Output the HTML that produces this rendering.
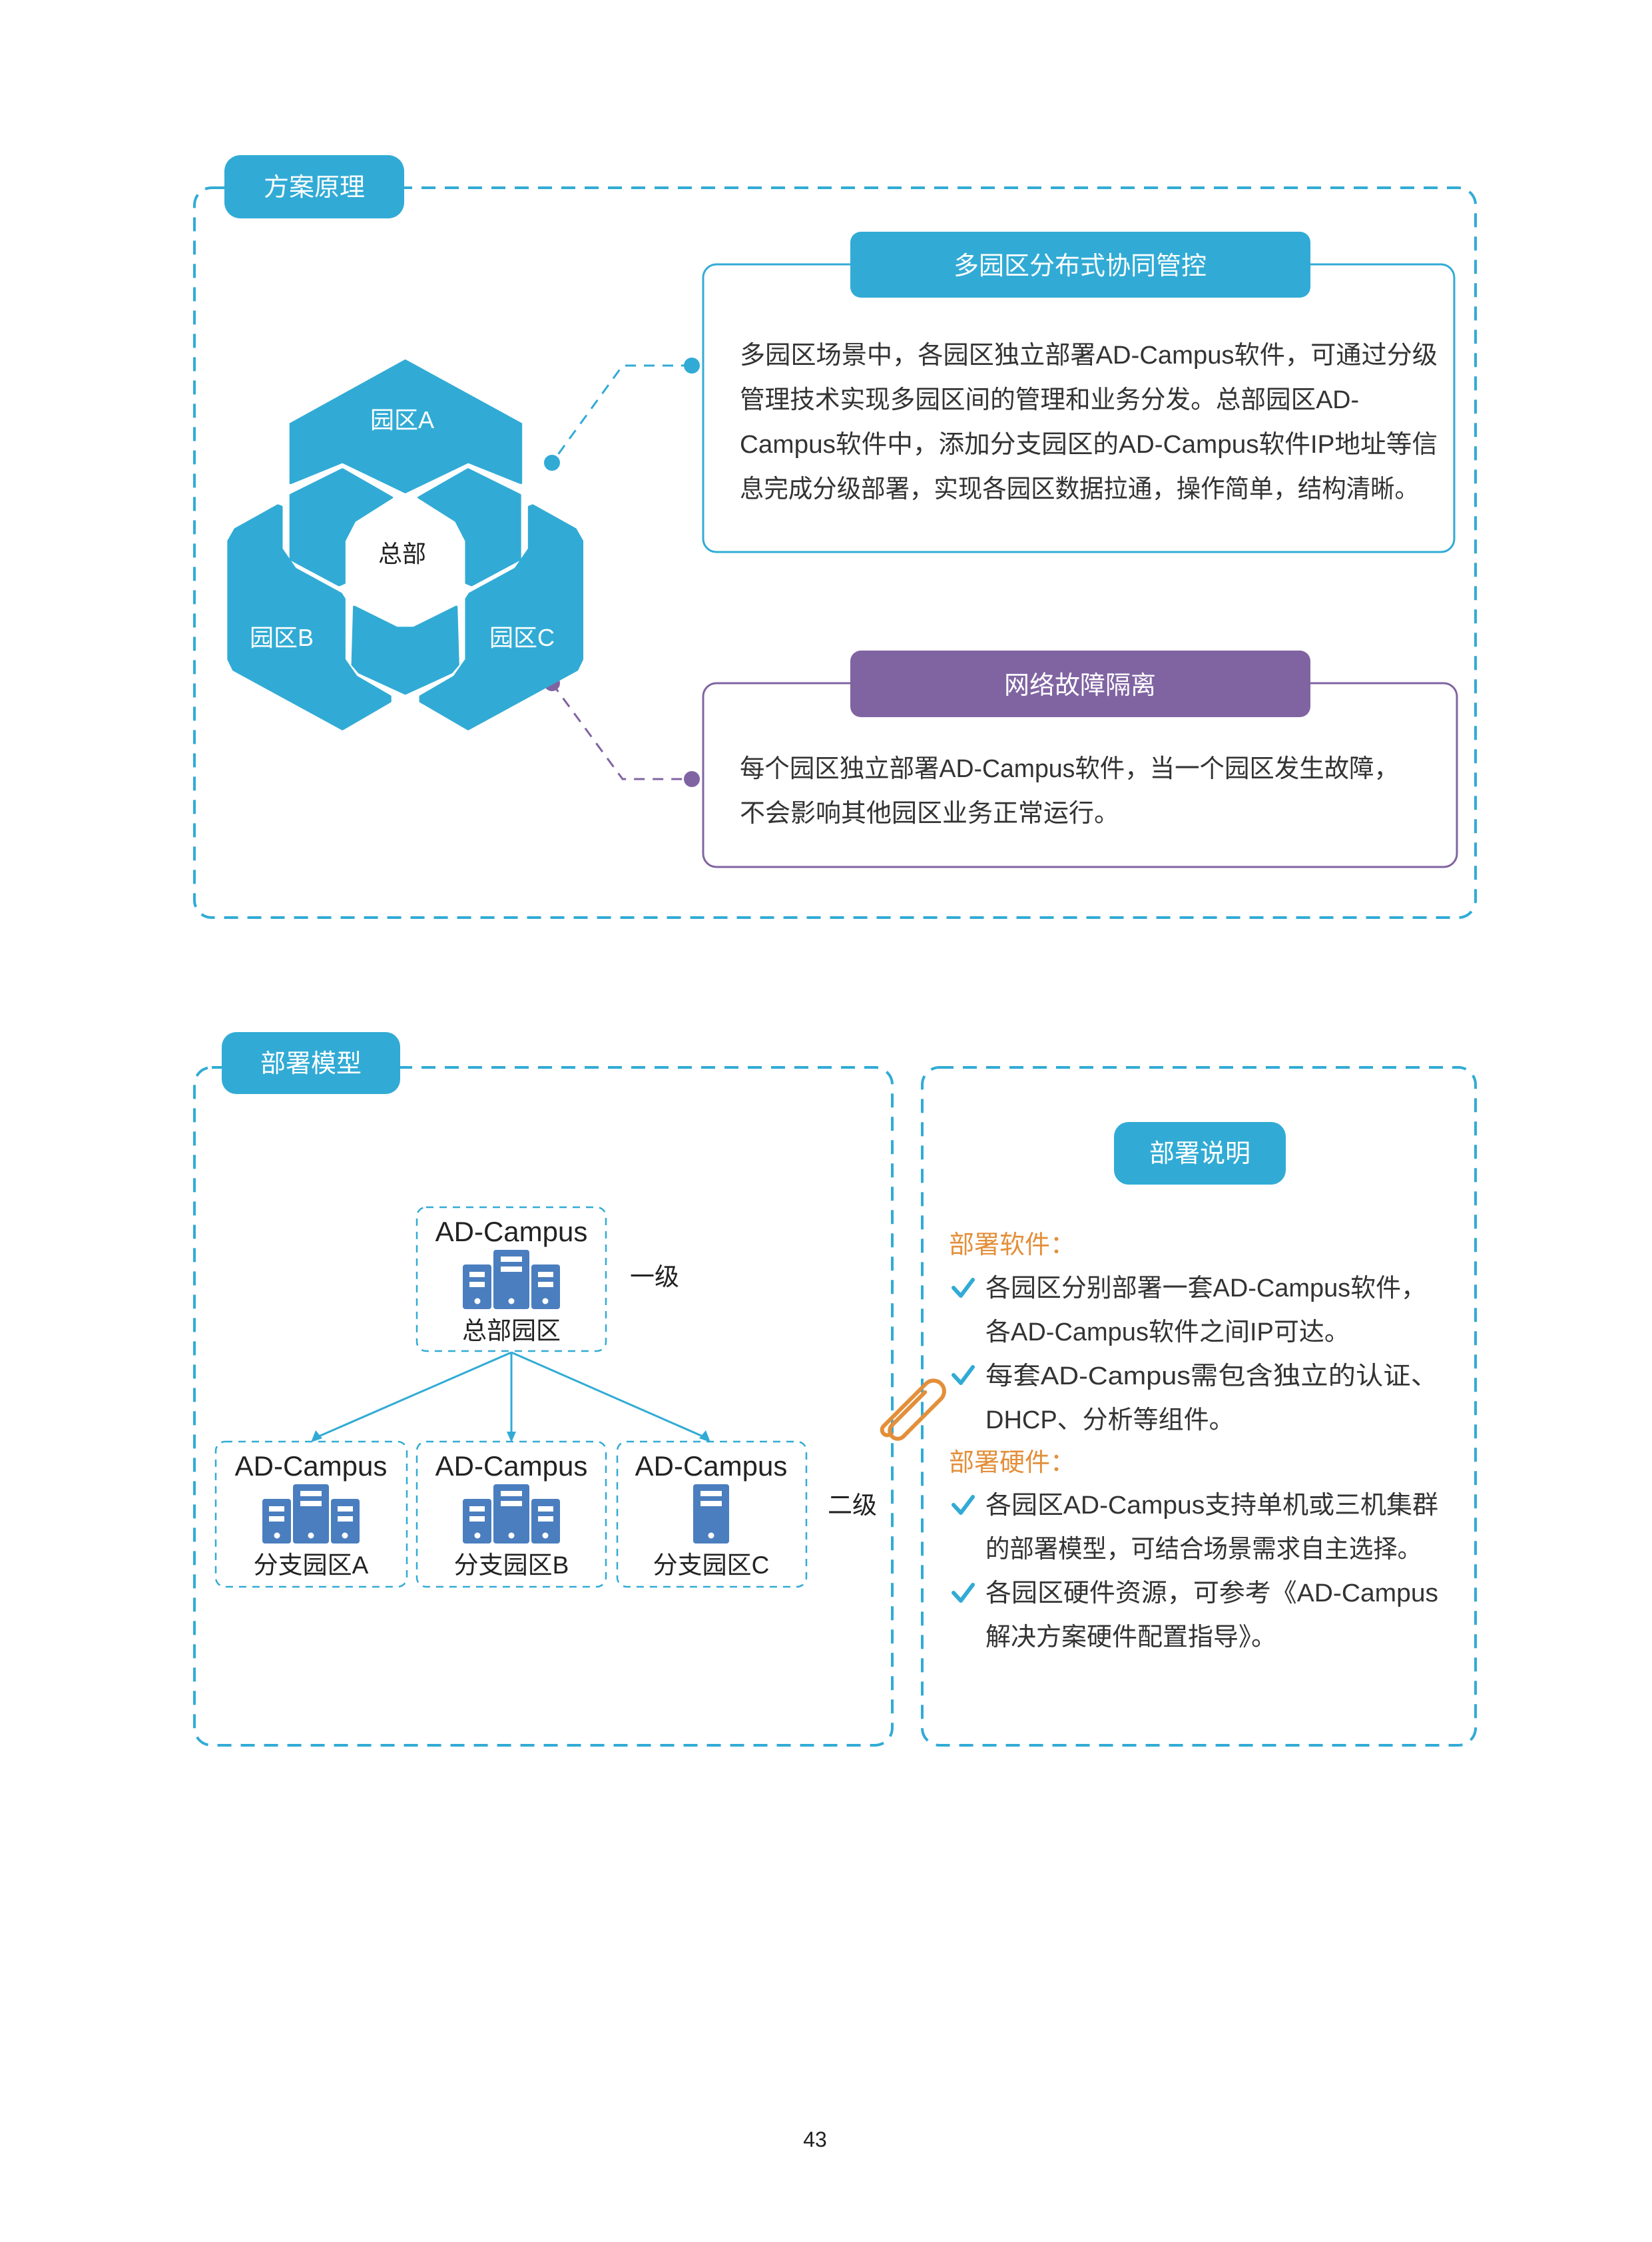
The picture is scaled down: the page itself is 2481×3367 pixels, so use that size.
<!DOCTYPE html>
<html><head><meta charset="utf-8"><style>
html,body{margin:0;padding:0;background:#fff;}
svg{display:block;}
text{font-family:"Liberation Sans","Noto Sans CJK SC",sans-serif;}
</style></head><body>
<svg width="2481" height="3367" viewBox="0 0 2481 3367" xmlns="http://www.w3.org/2000/svg">
<!-- top frame -->
<rect x="292" y="282" width="1924" height="1096" rx="26" fill="none" stroke="#31abd5" stroke-width="4" stroke-dasharray="21 14"/>
<rect x="337" y="233" width="270" height="95" rx="24" fill="#31abd5"/>
<text x="472" y="294" font-size="38" fill="#fff" text-anchor="middle">方案原理</text>

<!-- box 1 -->
<rect x="1056" y="397" width="1128" height="432" rx="20" fill="#fff" stroke="#31abd5" stroke-width="3"/>
<rect x="1277" y="348" width="691" height="99" rx="16" fill="#31abd5"/>
<text x="1622" y="412" font-size="38" fill="#fff" text-anchor="middle">多园区分布式协同管控</text>
<g font-size="38" fill="#333">
<text x="1111" y="546" textLength="1048" lengthAdjust="spacingAndGlyphs">多园区场景中，各园区独立部署AD-Campus软件，可通过分级</text>
<text x="1111" y="613" textLength="930" lengthAdjust="spacingAndGlyphs">管理技术实现多园区间的管理和业务分发。总部园区AD-</text>
<text x="1111" y="680" textLength="1048" lengthAdjust="spacingAndGlyphs">Campus软件中，添加分支园区的AD-Campus软件IP地址等信</text>
<text x="1111" y="747" textLength="1020" lengthAdjust="spacingAndGlyphs">息完成分级部署，实现各园区数据拉通，操作简单，结构清晰。</text>
</g>

<!-- box 2 -->
<rect x="1056" y="1026" width="1132" height="276" rx="20" fill="#fff" stroke="#8064a2" stroke-width="3"/>
<rect x="1277" y="977" width="691" height="100" rx="16" fill="#8064a2"/>
<text x="1622" y="1042" font-size="38" fill="#fff" text-anchor="middle">网络故障隔离</text>
<g font-size="38" fill="#333">
<text x="1111" y="1167" textLength="990" lengthAdjust="spacingAndGlyphs">每个园区独立部署AD-Campus软件，当一个园区发生故障，</text>
<text x="1111" y="1234">不会影响其他园区业务正常运行。</text>
</g>

<!-- connectors -->
<polyline points="1039,549 935,549 829,695" fill="none" stroke="#31abd5" stroke-width="3" stroke-dasharray="16 12"/>
<circle cx="1039" cy="549" r="12" fill="#31abd5"/>
<circle cx="829" cy="695" r="12" fill="#31abd5"/>
<polyline points="829,1026 935,1170 1039,1170" fill="none" stroke="#8064a2" stroke-width="3" stroke-dasharray="16 12"/>
<circle cx="829" cy="1026" r="12" fill="#8064a2"/>
<circle cx="1039" cy="1170" r="12" fill="#8064a2"/>

<!-- hexagons -->
<g transform="translate(300,500) scale(0.5102,0.3954)" fill="#31abd5" stroke="#31abd5" stroke-width="8" stroke-linejoin="round">
<polygon points="605,105 945,345 945,570 790,490 605,605 420,490 268,570 268,345"/>
<polygon points="420,518 565,625 455,715 425,790 425,950 410,958 268,860 268,615"/>
<polygon points="790,518 645,625 755,715 785,790 785,950 800,958 942,860 942,615"/>
<polygon points="230,655 240,660 240,820 280,895 415,990 425,1010 425,1240 460,1305 560,1380 560,1400 420,1505 100,1280 85,1240 85,790 105,745"/>
<polygon points="980,655 970,660 970,820 930,895 795,990 785,1010 785,1240 750,1305 650,1380 650,1400 790,1505 1110,1280 1125,1240 1125,790 1105,745"/>
<polygon points="455,1040 580,1120 630,1120 755,1040 760,1260 740,1290 605,1370 470,1290 450,1260"/>
</g>
<g font-size="36" text-anchor="middle">
<text x="604" y="643" fill="#fff">园区A</text>
<text x="604" y="844" fill="#222">总部</text>
<text x="423" y="970" fill="#fff">园区B</text>
<text x="784" y="970" fill="#fff">园区C</text>
</g>

<!-- bottom frames -->
<rect x="292" y="1603" width="1048" height="1018" rx="26" fill="none" stroke="#31abd5" stroke-width="4" stroke-dasharray="21 14"/>
<rect x="333" y="1550" width="268" height="93" rx="22" fill="#31abd5"/>
<text x="467" y="1610" font-size="38" fill="#fff" text-anchor="middle">部署模型</text>
<rect x="1385" y="1603" width="831" height="1018" rx="26" fill="none" stroke="#31abd5" stroke-width="4" stroke-dasharray="21 14"/>

<!-- deployment diagram -->
<g fill="none" stroke="#31abd5" stroke-width="2.5" stroke-dasharray="11 9">
<rect x="626" y="1813" width="284" height="216" rx="14"/>
<rect x="324" y="2165" width="287" height="218" rx="14"/>
<rect x="626" y="2165" width="284" height="218" rx="14"/>
<rect x="927" y="2165" width="284" height="218" rx="14"/>
</g>
<g stroke="#31abd5" stroke-width="3" fill="none">
<line x1="768" y1="2031" x2="472" y2="2160"/>
<line x1="768" y1="2031" x2="768" y2="2160"/>
<line x1="768" y1="2031" x2="1062" y2="2160"/>
</g>
<g fill="#31abd5">
<polygon points="467,2166 474,2148 484,2160"/>
<polygon points="768,2166 761,2150 775,2150"/>
<polygon points="1067,2166 1050,2160 1060,2148"/>
</g>
<defs>
<g id="srv">
<rect x="-73" y="-67" width="43" height="67" rx="4" fill="#4a7ebf"/>
<rect x="-27" y="-89" width="54" height="89" rx="4" fill="#4a7ebf"/>
<rect x="30" y="-67" width="43" height="67" rx="4" fill="#4a7ebf"/>
<g fill="#fff">
<rect x="-63" y="-56" width="23" height="8"/><rect x="-63" y="-41" width="23" height="8"/>
<rect x="40" y="-56" width="23" height="8"/><rect x="40" y="-41" width="23" height="8"/>
<rect x="-16" y="-79" width="32" height="8"/><rect x="-16" y="-64" width="32" height="8"/>
<circle cx="-51" cy="-12" r="4.5"/><circle cx="0" cy="-12" r="4.5"/><circle cx="51" cy="-12" r="4.5"/>
</g>
</g>
<g id="srv1">
<rect x="-27" y="-89" width="54" height="89" rx="4" fill="#4a7ebf"/>
<g fill="#fff"><rect x="-16" y="-79" width="32" height="8"/><rect x="-16" y="-64" width="32" height="8"/><circle cx="0" cy="-12" r="4.5"/></g>
</g>
</defs>
<use href="#srv" transform="translate(768,1966)"/>
<use href="#srv" transform="translate(467,2318)"/>
<use href="#srv" transform="translate(768,2318)"/>
<use href="#srv1" transform="translate(1068,2318)"/>
<g font-size="42" fill="#222" text-anchor="middle">
<text x="768" y="1864">AD-Campus</text>
<text x="467" y="2216">AD-Campus</text>
<text x="768" y="2216">AD-Campus</text>
<text x="1068" y="2216">AD-Campus</text>
</g>
<g font-size="37" fill="#222" text-anchor="middle">
<text x="768" y="2011">总部园区</text>
<text x="467" y="2363">分支园区A</text>
<text x="768" y="2363">分支园区B</text>
<text x="1068" y="2363">分支园区C</text>
<text x="983" y="1930">一级</text>
<text x="1280" y="2273">二级</text>
</g>

<!-- right panel -->
<rect x="1673" y="1685" width="258" height="94" rx="22" fill="#31abd5"/>
<text x="1802" y="1745" font-size="38" fill="#fff" text-anchor="middle">部署说明</text>
<g font-size="38">
<text x="1425" y="1882" fill="#e38f3a">部署软件：</text>
<text x="1425" y="2209" fill="#e38f3a">部署硬件：</text>
<g fill="#333">
<text x="1480" y="1947" textLength="662" lengthAdjust="spacingAndGlyphs">各园区分别部署一套AD-Campus软件，</text>
<text x="1480" y="2013">各AD-Campus软件之间IP可达。</text>
<text x="1480" y="2079" textLength="680" lengthAdjust="spacingAndGlyphs">每套AD-Campus需包含独立的认证、</text>
<text x="1480" y="2145">DHCP、分析等组件。</text>
<text x="1480" y="2273" textLength="680" lengthAdjust="spacingAndGlyphs">各园区AD-Campus支持单机或三机集群</text>
<text x="1480" y="2339" textLength="655" lengthAdjust="spacingAndGlyphs">的部署模型，可结合场景需求自主选择。</text>
<text x="1480" y="2405" textLength="680" lengthAdjust="spacingAndGlyphs">各园区硬件资源，可参考《AD-Campus</text>
<text x="1480" y="2471">解决方案硬件配置指导》。</text>
</g>
</g>
<g fill="none" stroke="#31abd5" stroke-width="6" stroke-linecap="round" stroke-linejoin="round">
<polyline points="1432,1934 1443,1946 1461,1922"/>
<polyline points="1432,2065 1443,2077 1461,2053"/>
<polyline points="1432,2260 1443,2272 1461,2248"/>
<polyline points="1432,2392 1443,2404 1461,2380"/>
</g>
<!-- paperclip -->
<g transform="translate(1368,2112) rotate(-45)" fill="none" stroke="#e38f3a" stroke-width="6" stroke-linecap="round">
<path d="M-50,-8 L40,-8 A16,16 0 0 1 40,24 L-40,24 A12,12 0 0 1 -40,0 L30,0"/>
<path d="M-50,-8 A8,8 0 0 0 -50,8"/>
</g>

<text x="1224" y="3224" font-size="32" fill="#222" text-anchor="middle">43</text>
</svg>
</body></html>
